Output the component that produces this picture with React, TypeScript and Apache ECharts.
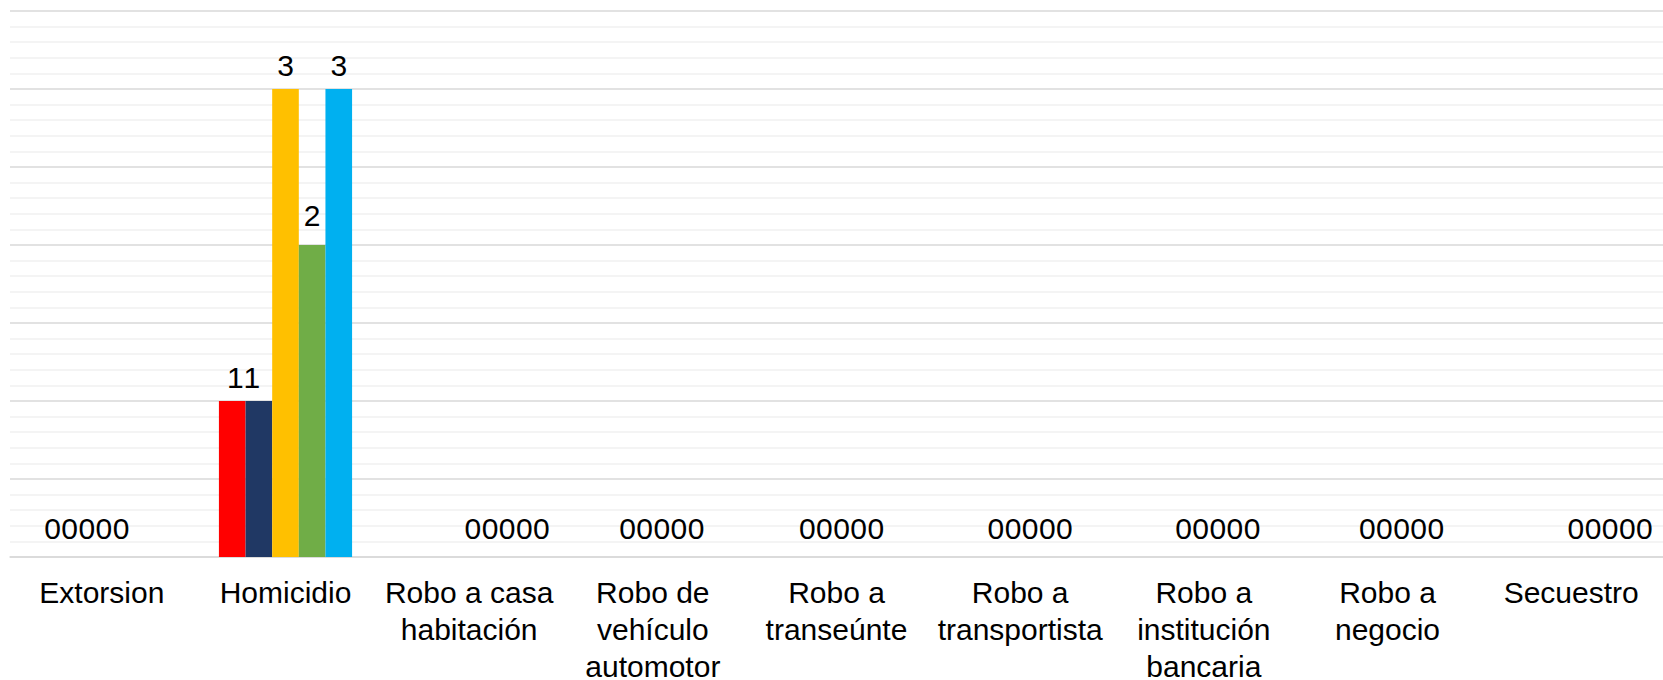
import React, { useEffect, useRef } from "react";
import * as echarts from "echarts";

const categories = [
  "Extorsion",
  "Homicidio",
  "Robo a casa habitación",
  "Robo de vehículo automotor",
  "Robo a transeúnte",
  "Robo a transportista",
  "Robo a institución bancaria",
  "Robo a negocio",
  "Secuestro",
];

const wrappedLabels: Record<string, string> = {
  "Robo a casa habitación": "Robo a casa\nhabitación",
  "Robo de vehículo automotor": "Robo de\nvehículo\nautomotor",
  "Robo a transeúnte": "Robo a\ntranseúnte",
  "Robo a transportista": "Robo a\ntransportista",
  "Robo a institución bancaria": "Robo a\ninstitución\nbancaria",
  "Robo a negocio": "Robo a\nnegocio",
};

const seriesNames = ["Serie 1", "Serie 2", "Serie 3", "Serie 4", "Serie 5"];
const serie1 = [0, 1, 0, 0, 0, 0, 0, 0, 0];
const serie2 = [0, 1, 0, 0, 0, 0, 0, 0, 0];
const serie3 = [0, 3, 0, 0, 0, 0, 0, 0, 0];
const serie4 = [0, 2, 0, 0, 0, 0, 0, 0, 0];
const serie5 = [0, 3, 0, 0, 0, 0, 0, 0, 0];
const seriesValues = [serie1, serie2, serie3, serie4, serie5];

const colors = ["#FF0000", "#203864", "#FFC000", "#70AD47", "#00B0F0"];

// label placement styling (how the source packs its data labels)
const zeroLabelShift = [-15, 0, 38, 9, 5, 10, 14, 14, 39];
const zeroLabelPack = -9.5;
const nonZeroLabelShift = [3, -7, 0, 0, 0];
const nonZeroLabelDistance = [9, 9, 9, 15, 9];

const FONT = "Liberation Sans";

export default function App() {
  const ref = useRef<HTMLDivElement>(null);

  useEffect(() => {
    document.body.style.margin = "0";
    if (!ref.current) return;
    const chart = echarts.init(ref.current, undefined, { renderer: "svg" });

    const series = seriesValues.map((vals, si) => ({
      name: seriesNames[si],
      type: "bar",
      barGap: "0%",
      barCategoryGap: "27.5%",
      itemStyle: { color: colors[si] },
      data: vals.map((v, ci) => ({
        value: v,
        label:
          v === 0
            ? {
                distance: 14,
                offset: [zeroLabelShift[ci] + (si - 2) * zeroLabelPack, 0],
              }
            : {
                distance: nonZeroLabelDistance[si],
                offset: [nonZeroLabelShift[si], 0],
              },
      })),
      label: {
        show: true,
        position: "top",
        color: "#000000",
        fontFamily: FONT,
        fontSize: 30,
      },
    }));

    chart.setOption({
      animation: false,
      grid: {
        left: 10,
        right: 0,
        top: 11,
        bottom: 123,
        containLabel: false,
        outerBoundsMode: "none",
      },
      xAxis: {
        type: "category",
        data: categories,
        axisLine: { show: true, lineStyle: { color: "#d9d9d9", width: 1.5 } },
        axisTick: { show: false },
        axisLabel: {
          interval: 0,
          margin: 17,
          color: "#000000",
          fontFamily: FONT,
          fontSize: 30,
          lineHeight: 37,
          formatter: (name: string) => wrappedLabels[name] || name,
        },
      },
      yAxis: {
        type: "value",
        min: 0,
        max: 3.5,
        interval: 0.5,
        axisLabel: { show: false },
        axisLine: { show: false },
        axisTick: { show: false },
        splitLine: { show: true, lineStyle: { color: "#d9d9d9", width: 1.5 } },
        minorTick: { show: false, splitNumber: 5 },
        minorSplitLine: { show: true, lineStyle: { color: "#f0f0f0", width: 1.5 } },
      },
      series,
    });

    return () => chart.dispose();
  }, []);

  return <div ref={ref} style={{ width: 1663, height: 680 }} />;
}
